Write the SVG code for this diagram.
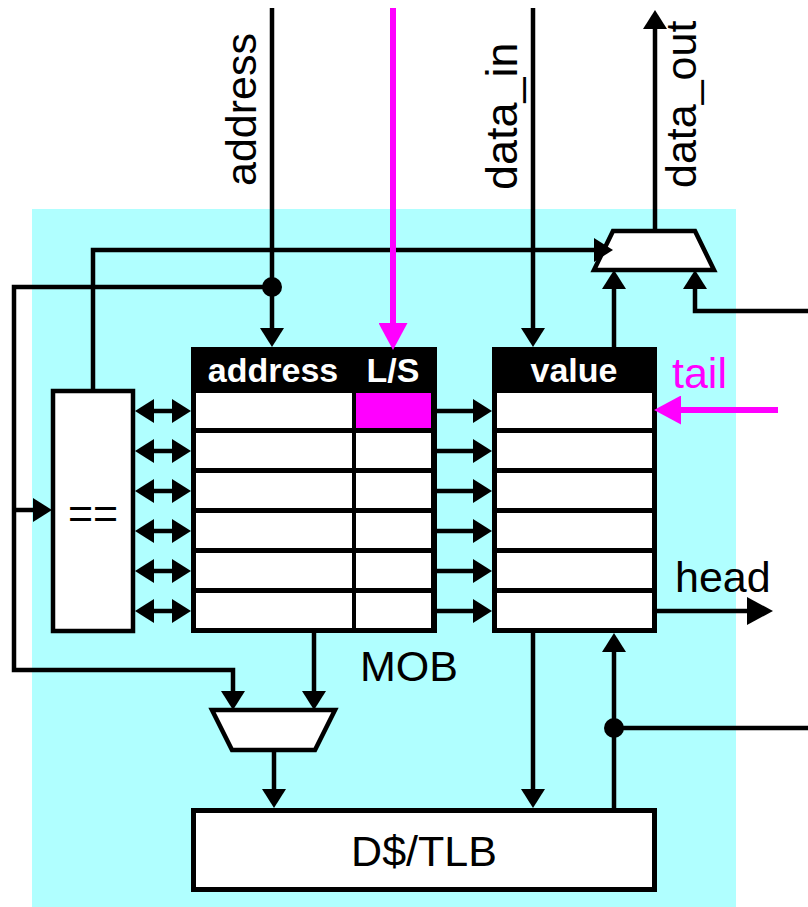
<svg xmlns="http://www.w3.org/2000/svg" width="808" height="907" viewBox="0 0 808 907">
<style>
.w{fill:none;stroke:#000;stroke-width:4.5}
.m{fill:none;stroke:#FF00FF;stroke-width:6}
.t{font-family:"Liberation Sans",Arial,sans-serif;font-size:43px;fill:#000}
.h{font-family:"Liberation Sans",Arial,sans-serif;font-size:34px;font-weight:bold;fill:#fff;text-anchor:middle}
.box{fill:#fff;stroke:#000;stroke-width:4.5}
.cell{fill:#fff}
</style>
<defs>
<marker id="a" markerUnits="userSpaceOnUse" markerWidth="19" markerHeight="24" refX="4" refY="12" orient="auto-start-reverse" viewBox="0 0 19 24"><path d="M0,0 L19,12 L0,24 z" fill="#000"/></marker>
<marker id="am" markerUnits="userSpaceOnUse" markerWidth="27" markerHeight="29" refX="4" refY="14.5" orient="auto" viewBox="0 0 27 29"><path d="M0,0 L27,14.5 L0,29 z" fill="#FF00FF"/></marker>
<marker id="ab" markerUnits="userSpaceOnUse" markerWidth="26" markerHeight="28" refX="4" refY="14" orient="auto" viewBox="0 0 26 28"><path d="M0,0 L26,14 L0,28 z" fill="#000"/></marker>
</defs>
<rect id="background" x="32" y="209" width="704" height="698" fill="#B0FFFF"/>

<g id="labels">
<text class="t" transform="translate(256,186) rotate(-90)">address</text>
<text class="t" transform="translate(517,190) rotate(-90)" style="font-size:45px">data_in</text>
<text class="t" transform="translate(696,188) rotate(-90)">data_out</text>
<text class="t" x="672" y="388" style="fill:#FF00FF">tail</text>
<text class="t" x="675" y="592">head</text>
<text class="t" x="409" y="681" text-anchor="middle">MOB</text>
</g>

<g id="mux-top"><polygon points="613,231 695,231 714,270 594,270" class="box"/></g>
<g id="mux-bottom"><polygon points="212,710 335,710 315,750 232,750" class="box"/></g>

<g id="eq-box">
<rect x="53" y="391" width="80" height="240" class="box"/>
<text class="t" x="93" y="528" text-anchor="middle">==</text>
</g>

<g id="address-table">
<rect x="191" y="347" width="246" height="286" fill="#000"/>
<text class="h" x="273" y="382">address</text>
<text class="h" x="393" y="382">L/S</text>
<rect class="cell" x="196" y="393" width="156" height="35"/><rect x="356" y="393" width="75" height="35" fill="#FF00FF"/>
<rect class="cell" x="196" y="433" width="156" height="35"/><rect class="cell" x="356" y="433" width="75" height="35"/>
<rect class="cell" x="196" y="473" width="156" height="35"/><rect class="cell" x="356" y="473" width="75" height="35"/>
<rect class="cell" x="196" y="513" width="156" height="35"/><rect class="cell" x="356" y="513" width="75" height="35"/>
<rect class="cell" x="196" y="553" width="156" height="35"/><rect class="cell" x="356" y="553" width="75" height="35"/>
<rect class="cell" x="196" y="593" width="156" height="35"/><rect class="cell" x="356" y="593" width="75" height="35"/>
</g>

<g id="value-table">
<rect x="492" y="347" width="165" height="286" fill="#000"/>
<text class="h" x="574" y="382">value</text>
<rect class="cell" x="497" y="393" width="155" height="35"/>
<rect class="cell" x="497" y="433" width="155" height="35"/>
<rect class="cell" x="497" y="473" width="155" height="35"/>
<rect class="cell" x="497" y="513" width="155" height="35"/>
<rect class="cell" x="497" y="553" width="155" height="35"/>
<rect class="cell" x="497" y="593" width="155" height="35"/>
</g>

<g id="dcache">
<rect x="193.5" y="810.5" width="461" height="79" fill="#fff" stroke="#000" stroke-width="5"/>
<text class="t" x="424" y="866" text-anchor="middle">D$/TLB</text>
</g>

<g id="connectors">
<path class="w" d="M272,8 V332" marker-end="url(#a)"/>
<path class="w" d="M272,287 H14 V670 H233 V695" marker-end="url(#a)"/>
<path class="w" d="M14,510 H37" marker-end="url(#a)"/>
<path class="w" d="M93,391 V250 H598" marker-end="url(#a)"/>
<path class="m" d="M393,8 V327" marker-end="url(#am)"/>
<path class="w" d="M533,8 V332" marker-end="url(#a)"/>
<path class="w" d="M655,231 V25" marker-end="url(#a)"/>
<path class="w" d="M614,347 V285" marker-end="url(#a)"/>
<path class="w" d="M808,311 H695 V285" marker-end="url(#a)"/>
<path class="m" d="M778,410 H677" stroke-width="7" marker-end="url(#am)"/>
<path class="w" d="M657,611 H751" stroke-width="7" marker-end="url(#ab)"/>
<path class="w" d="M150,411 H176" marker-start="url(#a)" marker-end="url(#a)"/>
<path class="w" d="M150,451 H176" marker-start="url(#a)" marker-end="url(#a)"/>
<path class="w" d="M150,491 H176" marker-start="url(#a)" marker-end="url(#a)"/>
<path class="w" d="M150,531 H176" marker-start="url(#a)" marker-end="url(#a)"/>
<path class="w" d="M150,571 H176" marker-start="url(#a)" marker-end="url(#a)"/>
<path class="w" d="M150,611 H176" marker-start="url(#a)" marker-end="url(#a)"/>
<path class="w" d="M437,411 H477" marker-end="url(#a)"/>
<path class="w" d="M437,451 H477" marker-end="url(#a)"/>
<path class="w" d="M437,491 H477" marker-end="url(#a)"/>
<path class="w" d="M437,531 H477" marker-end="url(#a)"/>
<path class="w" d="M437,571 H477" marker-end="url(#a)"/>
<path class="w" d="M437,611 H477" marker-end="url(#a)"/>
<path class="w" d="M314,633 V695" marker-end="url(#a)"/>
<path class="w" d="M274,750 V793" marker-end="url(#a)"/>
<path class="w" d="M533,633 V793" marker-end="url(#a)"/>
<path class="w" d="M614,808 V648" marker-end="url(#a)"/>
<path class="w" d="M614,728 H808"/>
<circle cx="272" cy="287" r="10" fill="#000"/>
<circle cx="614" cy="728" r="10" fill="#000"/>
</g>
</svg>
